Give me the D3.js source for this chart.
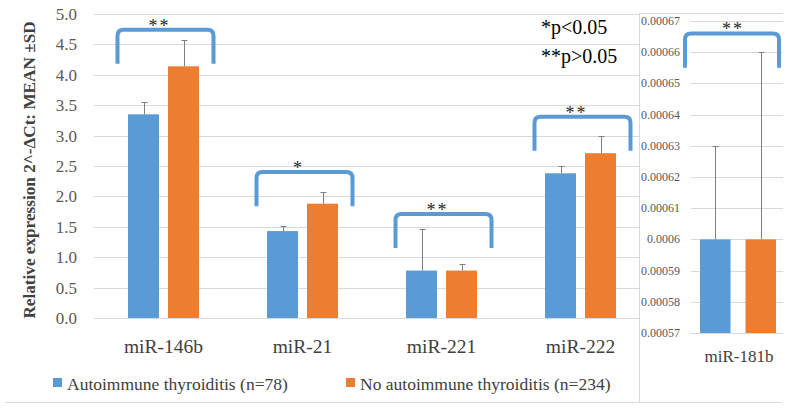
<!DOCTYPE html>
<html>
<head>
<meta charset="utf-8">
<script src="https://cdn.jsdelivr.net/npm/d3@7"></script>
<style>
  body { margin: 0; background: #fff; }
</style>
</head>
<body>
<svg width="792" height="410" font-family="'Liberation Serif', 'DejaVu Serif', serif"></svg>
<script>
// data
var categories = ["miR-146b", "miR-21", "miR-221", "miR-222"];
var series = ["Autoimmune thyroiditis (n=78)", "No autoimmune thyroiditis (n=234)"];
var autoMean = [3.35, 1.43, 0.78, 2.38];
var autoSD   = [0.20, 0.08, 0.69, 0.12];
var noAutoMean = [4.14, 1.88, 0.78, 2.71];
var noAutoSD   = [0.43, 0.20, 0.10, 0.28];
var signif = ["**", "*", "**", "**"];
var bracketTop = [4.74, 2.40, 1.71, 3.31];
var bracketDrop = 0.56;
var yTicks = [0, 0.5, 1, 1.5, 2, 2.5, 3, 3.5, 4, 4.5, 5];

var sideCategory = "miR-181b";
var sideMean = [0.0006, 0.0006];
var sideSD = [0.00003, 0.00006];
var sideSignif = "**";
var sideBracketTop = 0.000666;
var sideBracketBottom = 0.000655;
var sideTicks = [0.00057, 0.00058, 0.00059, 0.0006, 0.00061, 0.00062, 0.00063, 0.00064, 0.00065, 0.00066, 0.00067];

var colors = ["#5b9bd5", "#ed7d31"];
var grid = "#d9d9d9";

var svg = d3.select("svg");

// main chart
var x0 = d3.scaleBand().domain(categories).range([94, 650]);
var x1 = d3.scaleBand().domain(series).range([34, 105]).paddingInner(0.225);
var y = d3.scaleLinear().domain([0, 5]).range([318, 14]);

svg.append("line")
    .attr("x1", 5).attr("x2", 640).attr("y1", 402.5).attr("y2", 402.5)
    .attr("stroke", grid);

svg.append("g").selectAll("line").data(yTicks).enter().append("line")
    .attr("x1", 94).attr("x2", 650)
    .attr("y1", function(d) { return Math.round(y(d)) + 0.5; })
    .attr("y2", function(d) { return Math.round(y(d)) + 0.5; })
    .attr("stroke", grid);

svg.append("g").selectAll("text").data(yTicks).enter().append("text")
    .attr("x", 77).attr("y", function(d) { return y(d) + 6; })
    .attr("text-anchor", "end")
    .attr("font-size", "17px")
    .attr("fill", "#595959")
    .text(function(d) { return d.toFixed(1); });

svg.append("text")
    .attr("transform", "translate(34.5,170) rotate(-90)")
    .attr("text-anchor", "middle")
    .attr("font-size", "17.2px")
    .attr("font-weight", "bold")
    .attr("fill", "#404040")
    .text("Relative expression 2^-\u0394Ct: MEAN \u00b1SD");

var rows = categories.map(function(c, i) {
    return [
        {cat: c, s: series[0], v: autoMean[i], sd: autoSD[i], k: 0},
        {cat: c, s: series[1], v: noAutoMean[i], sd: noAutoSD[i], k: 1}
    ];
});

var groups = svg.append("g").selectAll("g").data(rows).enter().append("g")
    .attr("transform", function(d, i) { return "translate(" + x0(categories[i]) + ",0)"; });

groups.selectAll("rect").data(function(d) { return d; }).enter().append("rect")
    .attr("x", function(d) { return x1(d.s); })
    .attr("width", x1.bandwidth())
    .attr("y", function(d) { return y(d.v); })
    .attr("height", function(d) { return y(0) - y(d.v); })
    .attr("fill", function(d) { return colors[d.k]; });

groups.selectAll("path.err").data(function(d) { return d; }).enter().append("path")
    .attr("class", "err")
    .attr("d", function(d) {
        var cx = Math.round(x1(d.s) + x1.bandwidth() / 2) + 0.5;
        var t = Math.round(y(d.v + d.sd)) + 0.5;
        return "M" + cx + "," + y(d.v) + "V" + t + "M" + (cx - 3) + "," + t + "H" + (cx + 3);
    })
    .attr("fill", "none")
    .attr("stroke", "#7f7f7f")
    .attr("stroke-width", 1);

function bracket(xa, xb, top, bottom) {
    var r = 6;
    return "M" + xa + "," + bottom + "V" + (top + r) +
        "Q" + xa + "," + top + " " + (xa + r) + "," + top +
        "H" + (xb - r) +
        "Q" + xb + "," + top + " " + xb + "," + (top + r) +
        "V" + bottom;
}

var cMid = x0.bandwidth() / 2;
groups.append("path")
    .attr("d", function(d, i) {
        return bracket(cMid - 46, cMid + 50, y(bracketTop[i]), y(bracketTop[i] - bracketDrop));
    })
    .attr("fill", "none")
    .attr("stroke", colors[0])
    .attr("stroke-width", 4);

groups.append("text")
    .attr("x", cMid - 4)
    .attr("y", function(d, i) { return y(bracketTop[i]) + 2; })
    .attr("text-anchor", "middle")
    .attr("font-size", "18px")
    .attr("letter-spacing", "2px")
    .attr("fill", "#262626")
    .text(function(d, i) { return signif[i]; });

svg.append("g").selectAll("text").data(categories).enter().append("text")
    .attr("x", function(d) { return x0(d) + cMid; })
    .attr("y", 353)
    .attr("text-anchor", "middle")
    .attr("font-size", "19.5px")
    .attr("fill", "#404040")
    .text(function(d) { return d; });

svg.append("text").attr("x", 541).attr("y", 34)
    .attr("font-size", "20px").attr("fill", "#000").text("*p<0.05");
svg.append("text").attr("x", 541).attr("y", 63)
    .attr("font-size", "20px").attr("fill", "#000").text("**p>0.05");

// legend
var legX = [53, 346];
var leg = svg.append("g").selectAll("g").data(series).enter().append("g")
    .attr("transform", function(d, i) { return "translate(" + legX[i] + ",378)"; });
leg.append("rect").attr("width", 9).attr("height", 9)
    .attr("fill", function(d, i) { return colors[i]; });
leg.append("text").attr("x", 14).attr("y", 12)
    .attr("font-size", "17.5px").attr("fill", "#404040")
    .text(function(d) { return d; });

// side panel for miR-181b
var side = svg.append("g");
side.append("rect")
    .attr("x", 639.5).attr("y", 13.5).attr("width", 150).attr("height", 389)
    .attr("fill", "#fff");
side.append("path")
    .attr("d", "M783,13.5H639.5V402.5H781")
    .attr("fill", "none").attr("stroke", grid);

var ys = d3.scaleLinear().domain([0.00057, 0.00067]).range([333, 21]);
var xs = d3.scaleBand().domain(series).range([700, 776]).paddingInner(0.33);

side.selectAll("line.g").data(sideTicks).enter().append("line")
    .attr("class", "g")
    .attr("x1", 691).attr("x2", 783)
    .attr("y1", function(d) { return Math.round(ys(d)) + 0.5; })
    .attr("y2", function(d) { return Math.round(ys(d)) + 0.5; })
    .attr("stroke", grid);

side.selectAll("text.t").data(sideTicks).enter().append("text")
    .attr("class", "t")
    .attr("x", 680).attr("y", function(d) { return ys(d) + 4; })
    .attr("text-anchor", "end")
    .attr("font-size", "12px")
    .attr("fill", "#595959")
    .text(function(d) { return String(+d.toFixed(5)); });

side.selectAll("rect.b").data(series).enter().append("rect")
    .attr("class", "b")
    .attr("x", function(d) { return xs(d); })
    .attr("width", xs.bandwidth())
    .attr("y", function(d, i) { return ys(sideMean[i]); })
    .attr("height", function(d, i) { return ys(0.00057) - ys(sideMean[i]); })
    .attr("fill", function(d, i) { return colors[i]; });

side.selectAll("path.err").data(series).enter().append("path")
    .attr("class", "err")
    .attr("d", function(d, i) {
        var cx = Math.round(xs(d) + xs.bandwidth() / 2) + 0.5;
        var t = Math.round(ys(sideMean[i] + sideSD[i])) + 0.5;
        return "M" + cx + "," + ys(sideMean[i]) + "V" + t + "M" + (cx - 3) + "," + t + "H" + (cx + 3);
    })
    .attr("fill", "none")
    .attr("stroke", "#7f7f7f");

side.append("path")
    .attr("d", bracket(685, 779, ys(sideBracketTop), ys(sideBracketBottom)))
    .attr("fill", "none")
    .attr("stroke", colors[0])
    .attr("stroke-width", 4);

side.append("text")
    .attr("x", 733).attr("y", ys(sideBracketTop) + 2)
    .attr("text-anchor", "middle")
    .attr("font-size", "18px")
    .attr("letter-spacing", "2px")
    .attr("fill", "#262626")
    .text(sideSignif);

side.append("text")
    .attr("x", 739).attr("y", 362)
    .attr("text-anchor", "middle")
    .attr("font-size", "17px")
    .attr("fill", "#404040")
    .text(sideCategory);
</script>
</body>
</html>
